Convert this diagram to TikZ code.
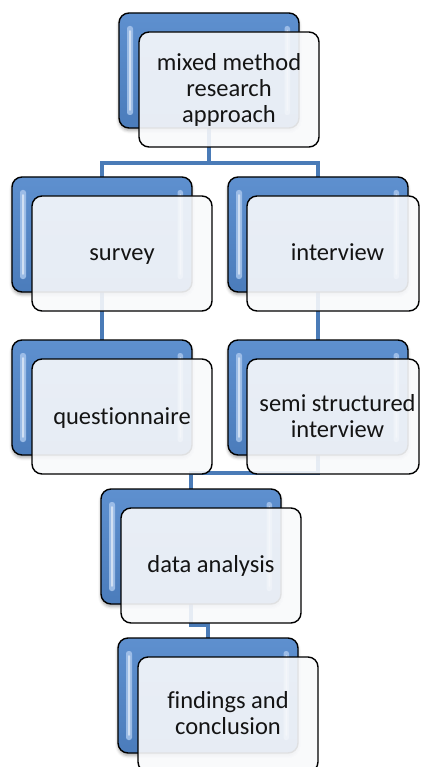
\documentclass[tikz,border=0pt]{standalone}
\usepackage{fontspec}
\setmainfont{Carlito}[Ligatures=CommonOff]
\usetikzlibrary{calc,shadows.blur}
\pgfdeclarelayer{bg}
\pgfsetlayers{bg,main}
\definecolor{connc}{HTML}{4A7BB7}
\definecolor{blueT}{HTML}{5E90CF}
\definecolor{blueB}{HTML}{4B7CBB}
\definecolor{blueHL}{HTML}{A3C2EA}
\definecolor{whiteF}{HTML}{F8F9FB}
\tikzset{
  conn/.style={draw=connc,line width=4.5pt},
  bluebox/.style={draw=black,line width=1.4pt,rounded corners=10pt,top color=blueT,bottom color=blueB,
    minimum width=180pt,minimum height=115pt,anchor=north west,inner sep=0pt,outer sep=0pt,
    blur shadow={shadow xshift=0pt,shadow yshift=-2.5pt,shadow opacity=35,shadow blur radius=3pt}},
  whitebox/.style={draw=black,line width=1.4pt,rounded corners=10pt,fill=whiteF,fill opacity=0.9,draw opacity=1,
    minimum width=180pt,minimum height=115pt,anchor=north west,inner sep=0pt,outer sep=0pt},
  lbl/.style={font=\fontsize{24.5}{26}\selectfont,align=center,text=black!92,inner sep=0pt},
  lbl1/.style={lbl,anchor=base},
  hlbar/.style={fill=blueHL,fill opacity=0.9,rounded corners=2.5pt},
  hlcore/.style={fill=white,fill opacity=0.55,rounded corners=1.2pt},
}
\newcommand\mkblue[3]{%
  \node[bluebox] (#1) at (#2,#3) {};
  \fill[hlbar] ($(#1.north west)+(8,13)$) rectangle ($(#1.south west)+(14,-13)$);
  \fill[hlcore] ($(#1.north west)+(10,17)$) rectangle ($(#1.south west)+(12,-17)$);
  \fill[hlbar] ($(#1.north east)+(-14.5,13)$) rectangle ($(#1.south east)+(-9,-13)$);
  \fill[hlcore] ($(#1.north east)+(-12.5,17)$) rectangle ($(#1.south east)+(-11,-17)$);
}
\begin{document}
\begin{tikzpicture}[x=1pt,y=-1pt]
\useasboundingbox (0,0) rectangle (420,767);
\begin{scope}
\clip (0,0) rectangle (420,767);
% blue boxes
\mkblue{b1}{119}{13}
\mkblue{b2}{12}{177}
\mkblue{b3}{228}{177}
\mkblue{b4}{12}{340}
\mkblue{b5}{228}{340}
\mkblue{b6}{101}{489}
\mkblue{b7}{118}{638}
% white boxes
\node[whitebox] (w1) at (139,32) {};
\node[whitebox] (w2) at (32,196) {};
\node[whitebox,minimum width=172pt] (w3) at (247,196) {};
\node[whitebox] (w4) at (32,359) {};
\node[whitebox,minimum width=172pt] (w5) at (247,359) {};
\node[whitebox] (w6) at (121,508) {};
\node[whitebox] (w7) at (138,657) {};
% texts
\node[lbl] (t1) at (229,90) {mixed method\\research\\approach};
\node[lbl1] (t2) at ($(w2.center)+(0,7)$) {survey};
\node[lbl1] (t3) at ($(w3.center)+(4.5,7)$) {interview};
\node[lbl1] (t4) at ($(w4.center)+(0,8)$) {questionnaire};
\node[lbl] (t5) at ($(w5.center)+(4.5,0)$) {semi structured\\interview};
\node[lbl1] (t6) at ($(w6.center)+(0,6.5)$) {data analysis};
\node[lbl] (t7) at ($(w7.center)+(0,-1)$) {findings and\\conclusion};
% connectors
\coordinate (j1) at (0,163);
\coordinate (j2) at (0,473);
\coordinate (j3) at (0,625);
\begin{pgfonlayer}{bg}
\draw[conn] (b1.center) -- (b1.center |- j1);
\draw[conn] (b2.north) |- (b3.north |- j1) -- (b3.north);
\draw[conn] (b2.center) -- (b4.north);
\draw[conn] (b3.center) -- (b5.north);
\draw[conn] (b5.center) -- (b5.center |- j2) -| (b6.north);
\draw[conn] (b6.center) -- (b6.center |- j3) -| (b7.north);
\end{pgfonlayer}
\end{scope}
\end{tikzpicture}
\end{document}
